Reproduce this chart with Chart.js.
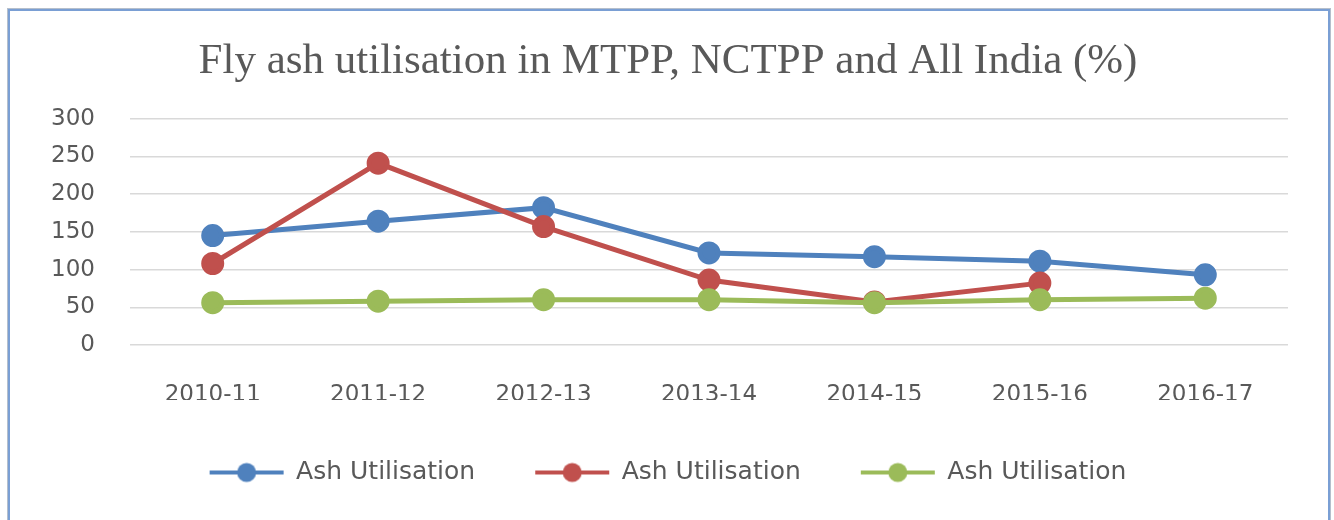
<!DOCTYPE html>
<html>
<head>
<meta charset="utf-8">
<script src="https://cdn.jsdelivr.net/npm/chart.js@4.4.1/dist/chart.umd.min.js"></script>
<style>
  html, body { margin: 0; padding: 0; background: #fff; }
  #wrap { position: relative; width: 1334px; height: 520px; }
  #frame {
    position: absolute; left: 8px; top: 9px; width: 1318px; height: 530px;
    border: 2px solid #7a9fd4; box-shadow: 0 0 0 1px #b5bfcc;
  }
  canvas { position: absolute; left: 0; top: 0; }
</style>
</head>
<body>
<div id="wrap">
  <div id="frame"></div>
  <canvas id="c" width="1334" height="520"></canvas>
</div>
<script>
// data
var years = ["2010-11", "2011-12", "2012-13", "2013-14", "2014-15", "2015-16", "2016-17"];
var mtpp = [145, 164, 182, 122, 117, 111, 93];
var nctpp = [108, 241, 157, 86, 57, 82, null];
var allIndia = [56, 58, 60, 60, 56, 60, 62];
var seriesNames = ["Ash Utilisation", "Ash Utilisation", "Ash Utilisation"];
var yTicks = [0, 50, 100, 150, 200, 250, 300];

var colors = ["#4f81bd", "#c0504d", "#9bbb59"];
var textGrey = "#595959";

// legend marker: short line with a dot, like the office style
function makeMarker(color) {
    var cv = document.createElement('canvas');
    cv.width = 76;
    cv.height = 22;
    var g = cv.getContext('2d');
    g.strokeStyle = color;
    g.lineWidth = 4;
    g.beginPath();
    g.moveTo(1, 11);
    g.lineTo(75, 11);
    g.stroke();
    g.fillStyle = color;
    g.beginPath();
    g.arc(38, 11, 9.5, 0, Math.PI * 2);
    g.fill();
    return cv;
}
var markers = colors.map(makeMarker);

function lineSet(i, values, order) {
    return {
        label: seriesNames[i],
        data: values,
        borderColor: colors[i],
        backgroundColor: colors[i],
        pointBackgroundColor: colors[i],
        pointBorderColor: colors[i],
        borderWidth: 5,
        pointRadius: 9,
        pointHoverRadius: 9,
        tension: 0,
        spanGaps: false,
        order: order
    };
}

new Chart(document.getElementById('c').getContext('2d'), {
    type: 'line',
    data: {
        labels: years,
        datasets: [
            lineSet(0, mtpp, 2),
            lineSet(1, nctpp, 1),
            lineSet(2, allIndia, 0)
        ]
    },
    options: {
        responsive: false,
        animation: false,
        layout: { padding: { left: 48, right: 46, top: 20, bottom: 25 } },
        plugins: {
            title: {
                display: true,
                text: "Fly ash utilisation in MTPP, NCTPP and All India (%)",
                color: textGrey,
                font: { family: "'Liberation Serif', 'Times New Roman', serif", size: 43, weight: 'normal' },
                padding: { top: 16, bottom: 31 }
            },
            legend: {
                position: 'bottom',
                labels: {
                    usePointStyle: true,
                    pointStyleWidth: 74,
                    padding: 60,
                    color: textGrey,
                    font: { family: "'DejaVu Sans', sans-serif", size: 25 },
                    sort: function (a, b) { return a.datasetIndex - b.datasetIndex; },
                    generateLabels: function (chart) {
                        var items = Chart.defaults.plugins.legend.labels.generateLabels(chart);
                        return items.map(function (it) {
                            it.pointStyle = markers[it.datasetIndex];
                            return it;
                        });
                    }
                }
            },
            tooltip: { enabled: false }
        },
        scales: {
            x: {
                offset: true,
                grid: { display: false, drawTicks: false },
                border: { display: false },
                ticks: {
                    color: textGrey,
                    padding: 36,
                    maxRotation: 0,
                    font: { family: "'DejaVu Sans', sans-serif", size: 23 }
                },
                afterFit: function (s) { s.height = 55; }
            },
            y: {
                min: 0,
                max: 300,
                afterBuildTicks: function (s) {
                    s.ticks = yTicks.map(function (v) { return { value: v }; });
                },
                grid: { color: '#d9d9d9', lineWidth: 1.5, drawTicks: false },
                border: { display: false },
                ticks: {
                    color: textGrey,
                    padding: 35,
                    font: { family: "'DejaVu Sans', sans-serif", size: 23 }
                },
                afterFit: function (s) { s.width = 82; }
            }
        }
    }
});
</script>
</body>
</html>
